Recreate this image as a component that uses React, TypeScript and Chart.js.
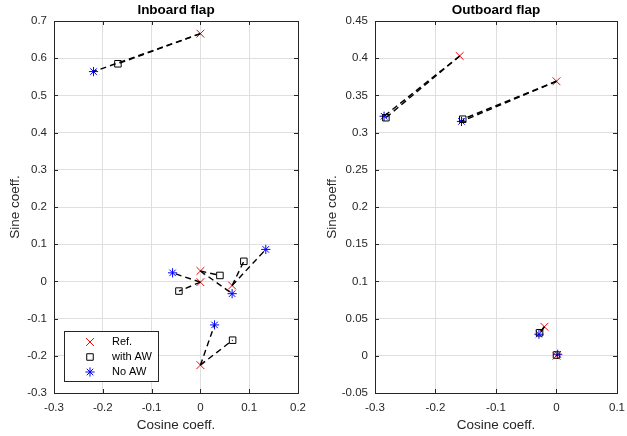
import React, { useEffect, useRef } from 'react';
import { Chart, registerables } from 'chart.js';
import { drawPoint } from 'chart.js/helpers';

Chart.register(...registerables);

const FONT = '"Liberation Sans", Arial, Helvetica, sans-serif';
const TXT = '#262626';
const GRID = '#dfdfdf';

// ---- Inboard flap data ----
const inRefX = [0, 0, 0, 0.065, 0];
const inRefY = [0.666, 0.028, -0.002, -0.011, -0.225];
const inAwX = [-0.169, 0.040, -0.044, 0.089, 0.066];
const inAwY = [0.585, 0.016, -0.026, 0.054, -0.158];
const inNoX = [-0.219, 0.065, -0.057, 0.134, 0.029];
const inNoY = [0.564, -0.033, 0.023, 0.086, -0.117];
const inXTicks = [-0.3, -0.2, -0.1, 0, 0.1, 0.2];
const inYTicks = [-0.3, -0.2, -0.1, 0, 0.1, 0.2, 0.3, 0.4, 0.5, 0.6, 0.7];

// ---- Outboard flap data ----
const outRefX = [-0.16, 0, -0.02, 0];
const outRefY = [0.403, 0.369, 0.039, 0];
const outAwX = [-0.282, -0.155, -0.028, 0];
const outAwY = [0.320, 0.318, 0.031, 0.001];
const outNoX = [-0.285, -0.157, -0.029, 0.002];
const outNoY = [0.322, 0.315, 0.029, 0.002];
const outXTicks = [-0.3, -0.2, -0.1, 0, 0.1];
const outYTicks = [-0.05, 0, 0.05, 0.1, 0.15, 0.2, 0.25, 0.3, 0.35, 0.4, 0.45];

const SERIES = [
  { label: 'Ref.', style: 'crossRot', radius: 5.5, color: '#ff0000', fill: '#ff0000' },
  { label: 'with AW', style: 'rect', radius: 4.6, color: '#000000', fill: 'rgba(0,0,0,0)' },
  { label: 'No AW', style: 'star', radius: 4.6, color: '#0000ff', fill: '#0000ff' },
];

const fmt = (v: number) => String(parseFloat(Number(v).toFixed(3)));

function buildDatasets(rx: number[], ry: number[], ax: number[], ay: number[], nx: number[], ny: number[]) {
  const ds: any[] = [];
  const seg = (x1: number, y1: number, x2: number, y2: number) => ({
    data: [{ x: x1, y: y1 }, { x: x2, y: y2 }],
    showLine: true,
    borderColor: '#000000',
    borderWidth: 1.4,
    borderDash: [6, 4],
    pointRadius: 0,
    pointHoverRadius: 0,
    fill: false,
    order: 0,
  });
  rx.forEach((_, i) => {
    ds.push(seg(rx[i], ry[i], ax[i], ay[i]));
    ds.push(seg(rx[i], ry[i], nx[i], ny[i]));
  });
  const pts = [
    rx.map((x, i) => ({ x, y: ry[i] })),
    ax.map((x, i) => ({ x, y: ay[i] })),
    nx.map((x, i) => ({ x, y: ny[i] })),
  ];
  SERIES.forEach((s, k) => {
    ds.push({
      label: s.label,
      data: pts[k],
      showLine: false,
      pointStyle: s.style,
      pointRadius: s.radius,
      pointHoverRadius: s.radius,
      pointBorderColor: s.color,
      pointBackgroundColor: s.fill,
      borderColor: s.color,
      backgroundColor: s.fill,
      pointBorderWidth: 1,
      order: 5,
    });
  });
  return ds;
}

function makeFramePlugin(title: string, xTicks: number[], yTicks: number[], legend: boolean) {
  return {
    id: 'frame',
    afterDraw(chart: any) {
      const { ctx, chartArea: ca, scales } = chart;
      const xs = scales.x, ys = scales.y;
      ctx.save();
      ctx.strokeStyle = TXT;
      ctx.lineWidth = 1;
      ctx.strokeRect(Math.round(ca.left) + 0.5, Math.round(ca.top) + 0.5, Math.round(ca.right - ca.left), Math.round(ca.bottom - ca.top));
      const tl = 4;
      ctx.beginPath();
      xTicks.forEach((v) => {
        const px = Math.round(xs.getPixelForValue(v)) + 0.5;
        ctx.moveTo(px, ca.bottom); ctx.lineTo(px, ca.bottom - tl);
        ctx.moveTo(px, ca.top); ctx.lineTo(px, ca.top + tl);
      });
      yTicks.forEach((v) => {
        const py = Math.round(ys.getPixelForValue(v)) + 0.5;
        ctx.moveTo(ca.left, py); ctx.lineTo(ca.left + tl, py);
        ctx.moveTo(ca.right, py); ctx.lineTo(ca.right - tl, py);
      });
      ctx.stroke();
      // title
      ctx.fillStyle = '#000000';
      ctx.font = `bold 13.5px ${FONT}`;
      ctx.textAlign = 'center';
      ctx.textBaseline = 'middle';
      ctx.fillText(title, (ca.left + ca.right) / 2, 10);
      if (legend) {
        const x0 = ca.left + 10, y0 = ca.bottom - 62, w = 94, h = 50;
        ctx.fillStyle = '#ffffff';
        ctx.fillRect(x0, y0, w, h);
        ctx.strokeStyle = TXT;
        ctx.lineWidth = 1;
        ctx.strokeRect(x0 + 0.5, y0 + 0.5, w, h);
        ctx.font = `11px ${FONT}`;
        ctx.textAlign = 'left';
        ctx.textBaseline = 'middle';
        SERIES.forEach((s, k) => {
          const yy = y0 + 11 + k * 15;
          ctx.strokeStyle = s.color;
          ctx.fillStyle = s.fill;
          ctx.lineWidth = 1;
          drawPoint(ctx, { pointStyle: s.style as any, radius: s.radius, rotation: 0, borderWidth: 1 }, x0 + 26, yy);
          ctx.fillStyle = '#000000';
          ctx.fillText(s.label, x0 + 48, yy);
        });
      }
      ctx.restore();
    },
  };
}

function makeConfig(opts: {
  datasets: any[]; xMin: number; xMax: number; xStep: number; yMin: number; yMax: number; yStep: number;
  yWidth: number; padRight: number; yTitlePad: number; plugin: any;
}) {
  return {
    type: 'scatter' as const,
    data: { datasets: opts.datasets },
    options: {
      responsive: false,
      animation: false as const,
      events: [],
      layout: { padding: { left: 0, right: opts.padRight, top: 21, bottom: 0 } },
      plugins: { legend: { display: false }, tooltip: { enabled: false }, title: { display: false } },
      scales: {
        x: {
          type: 'linear' as const,
          min: opts.xMin,
          max: opts.xMax,
          afterBuildTicks: (s: any) => {
            const t = [];
            for (let v = opts.xMin; v <= opts.xMax + 1e-9; v += opts.xStep) t.push({ value: parseFloat(v.toFixed(4)) });
            s.ticks = t;
          },
          afterFit: (s: any) => { s.height = 43; s.paddingRight = 0; s.paddingLeft = 0; },
          grid: { color: GRID, drawTicks: false, lineWidth: 1 },
          border: { display: false },
          ticks: { color: TXT, font: { family: FONT, size: 11.5 }, padding: 8, callback: (v: any) => fmt(v), maxRotation: 0, autoSkip: false },
          title: { display: true, text: 'Cosine coeff.', color: TXT, font: { family: FONT, size: 13.5 }, padding: { top: 0, bottom: 3 } },
        },
        y: {
          type: 'linear' as const,
          min: opts.yMin,
          max: opts.yMax,
          afterBuildTicks: (s: any) => {
            const t = [];
            for (let v = opts.yMin; v <= opts.yMax + 1e-9; v += opts.yStep) t.push({ value: parseFloat(v.toFixed(4)) });
            s.ticks = t;
          },
          afterFit: (s: any) => { s.width = opts.yWidth; s.paddingTop = 0; s.paddingBottom = 0; },
          grid: { color: GRID, drawTicks: false, lineWidth: 1 },
          border: { display: false },
          ticks: { color: TXT, font: { family: FONT, size: 11.5 }, padding: 7, callback: (v: any) => fmt(v), autoSkip: false },
          title: { display: true, text: 'Sine coeff.', color: TXT, font: { family: FONT, size: 13.5 }, padding: { top: opts.yTitlePad, bottom: 0 } },
        },
      },
    },
    plugins: [opts.plugin],
  };
}

function ChartCanvas({ config, width, height, left }: { config: any; width: number; height: number; left: number }) {
  const ref = useRef<HTMLCanvasElement | null>(null);
  useEffect(() => {
    if (!ref.current) return;
    const chart = new Chart(ref.current, config);
    return () => chart.destroy();
  }, []);
  return (
    <canvas
      ref={ref}
      width={width}
      height={height}
      style={{ position: 'absolute', left, top: 0, width, height, display: 'block' }}
    />
  );
}

export default function App() {
  const leftCfg = makeConfig({
    datasets: buildDatasets(inRefX, inRefY, inAwX, inAwY, inNoX, inNoY),
    xMin: -0.3, xMax: 0.2, xStep: 0.1, yMin: -0.3, yMax: 0.7, yStep: 0.1,
    yWidth: 54, padRight: 15, yTitlePad: 7,
    plugin: makeFramePlugin('Inboard flap', inXTicks, inYTicks, true),
  });
  const rightCfg = makeConfig({
    datasets: buildDatasets(outRefX, outRefY, outAwX, outAwY, outNoX, outNoY),
    xMin: -0.3, xMax: 0.1, xStep: 0.1, yMin: -0.05, yMax: 0.45, yStep: 0.05,
    yWidth: 62, padRight: 10, yTitlePad: 11,
    plugin: makeFramePlugin('Outboard flap', outXTicks, outYTicks, false),
  });
  return (
    <div style={{ position: 'fixed', left: 0, top: 0, width: 627, height: 436, background: '#ffffff', overflow: 'hidden' }}>
      <ChartCanvas config={leftCfg} width={313} height={436} left={0} />
      <ChartCanvas config={rightCfg} width={314} height={436} left={313} />
    </div>
  );
}
